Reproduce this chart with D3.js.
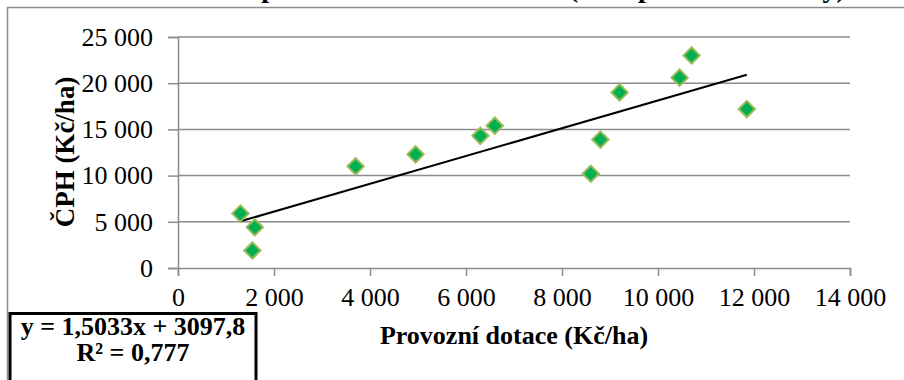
<!DOCTYPE html>
<html>
<head>
<meta charset="utf-8">
<script src="https://cdn.jsdelivr.net/npm/d3@7"></script>
<style>
  body { margin: 0; background: #fff; }
  svg { display: block; font-family: "Liberation Serif", "Times New Roman", serif; }
</style>
</head>
<body>
<div id="vis-container"></div>
<script>
// data
const dotace = [1300, 1600, 1550, 3700, 4950, 6300, 6600, 8600, 8800, 9200, 10450, 10700, 11850];
const cph = [5900, 4400, 1900, 11000, 12300, 14300, 15400, 10200, 13900, 19000, 20600, 23000, 17200];
const xTicks = [0, 2000, 4000, 6000, 8000, 10000, 12000, 14000];
const yTicks = [0, 5000, 10000, 15000, 20000, 25000];
const slope = 1.5033, intercept = 3097.8;
const eqLines = ["y = 1,5033x + 3097,8", "R² = 0,777"];

const titleText = "Graf č. 5: Korelace provozních dotací a ČPH (čisté přidané hodnoty)";
const xTitle = "Provozní dotace (Kč/ha)";
const yTitle = "ČPH (Kč/ha)";

const W = 904, H = 380;
const plot = { left: 178, right: 850, top: 37, bottom: 268 };

const svg = d3.select("#vis-container")
  .append("svg")
    .attr("width", W)
    .attr("height", H);

// outer chart border (right/bottom fall outside the window)
svg.append("rect")
  .attr("x", 7.5).attr("y", 7.5)
  .attr("width", 1000).attr("height", 500)
  .attr("fill", "none")
  .attr("stroke", "#8c8c8c")
  .attr("stroke-width", 1.5);

// title, mostly cut off at the top
svg.append("text")
  .attr("x", 436).attr("y", -3)
  .attr("text-anchor", "middle")
  .style("font-size", "28px")
  .style("font-weight", "bold")
  .text(titleText);

const x = d3.scaleLinear().domain([0, 14000]).range([plot.left, plot.right]);
const y = d3.scaleLinear().domain([0, 25000]).range([plot.bottom, plot.top]);

const fmt = d => d3.format(",")(d).replace(/,/g, " ");

// gridlines
svg.append("g")
  .selectAll("line")
  .data(yTicks.slice(1))
  .enter()
    .append("line")
    .attr("x1", plot.left).attr("x2", plot.right)
    .attr("y1", d => y(d)).attr("y2", d => y(d))
    .attr("stroke", "#8c8c8c")
    .attr("stroke-width", 1.5);

// y axis
let yAxis = svg.append("g")
  .attr("transform", `translate(${plot.left}, 0)`)
  .call(d3.axisLeft(y).tickValues(yTicks).tickFormat(fmt).tickSize(10).tickPadding(15));

// x axis
let xAxis = svg.append("g")
  .attr("transform", `translate(0, ${plot.bottom})`)
  .call(d3.axisBottom(x).tickValues(xTicks).tickFormat(fmt).tickSize(8).tickPadding(12));

[xAxis, yAxis].forEach(a => {
  a.select(".domain").attr("stroke", "#8c8c8c").attr("stroke-width", 1.5);
  a.selectAll(".tick line").attr("stroke", "#8c8c8c").attr("stroke-width", 1.5);
  a.selectAll("text")
    .attr("fill", "#000")
    .style("font-family", "'Liberation Serif', serif")
    .style("font-size", "26px");
});

// trend line
const xMin = d3.min(dotace), xMax = d3.max(dotace);
svg.append("line")
  .attr("x1", x(xMin)).attr("y1", y(slope * xMin + intercept))
  .attr("x2", x(xMax)).attr("y2", y(slope * xMax + intercept))
  .attr("stroke", "#000")
  .attr("stroke-width", 2);

// points
const diamond = d3.symbol().type(d3.symbolDiamond2).size(170);
svg.append("g")
  .selectAll("path")
  .data(dotace.map((d, i) => ({ x: d, y: cph[i] })))
  .enter()
    .append("path")
    .attr("d", diamond)
    .attr("transform", d => `translate(${x(d.x)}, ${y(d.y)})`)
    .attr("fill", "#00b050")
    .attr("stroke", "#9bbb59")
    .attr("stroke-width", 2);

// axis titles
svg.append("text")
  .attr("x", 514).attr("y", 344)
  .attr("text-anchor", "middle")
  .style("font-size", "26px")
  .style("font-weight", "bold")
  .text(xTitle);

svg.append("text")
  .attr("transform", "translate(74, 152) rotate(-90)")
  .attr("text-anchor", "middle")
  .style("font-size", "27px")
  .style("font-weight", "bold")
  .text(yTitle);

// equation box
svg.append("rect")
  .attr("x", 10).attr("y", 313.5)
  .attr("width", 246).attr("height", 100)
  .attr("fill", "#fff")
  .attr("stroke", "#000")
  .attr("stroke-width", 3);

svg.append("g")
  .selectAll("text")
  .data(eqLines)
  .enter()
    .append("text")
    .attr("x", 133)
    .attr("y", (d, i) => 335 + i * 26)
    .attr("text-anchor", "middle")
    .style("font-size", "26px")
    .style("font-weight", "bold")
    .text(d => d);
</script>
</body>
</html>
